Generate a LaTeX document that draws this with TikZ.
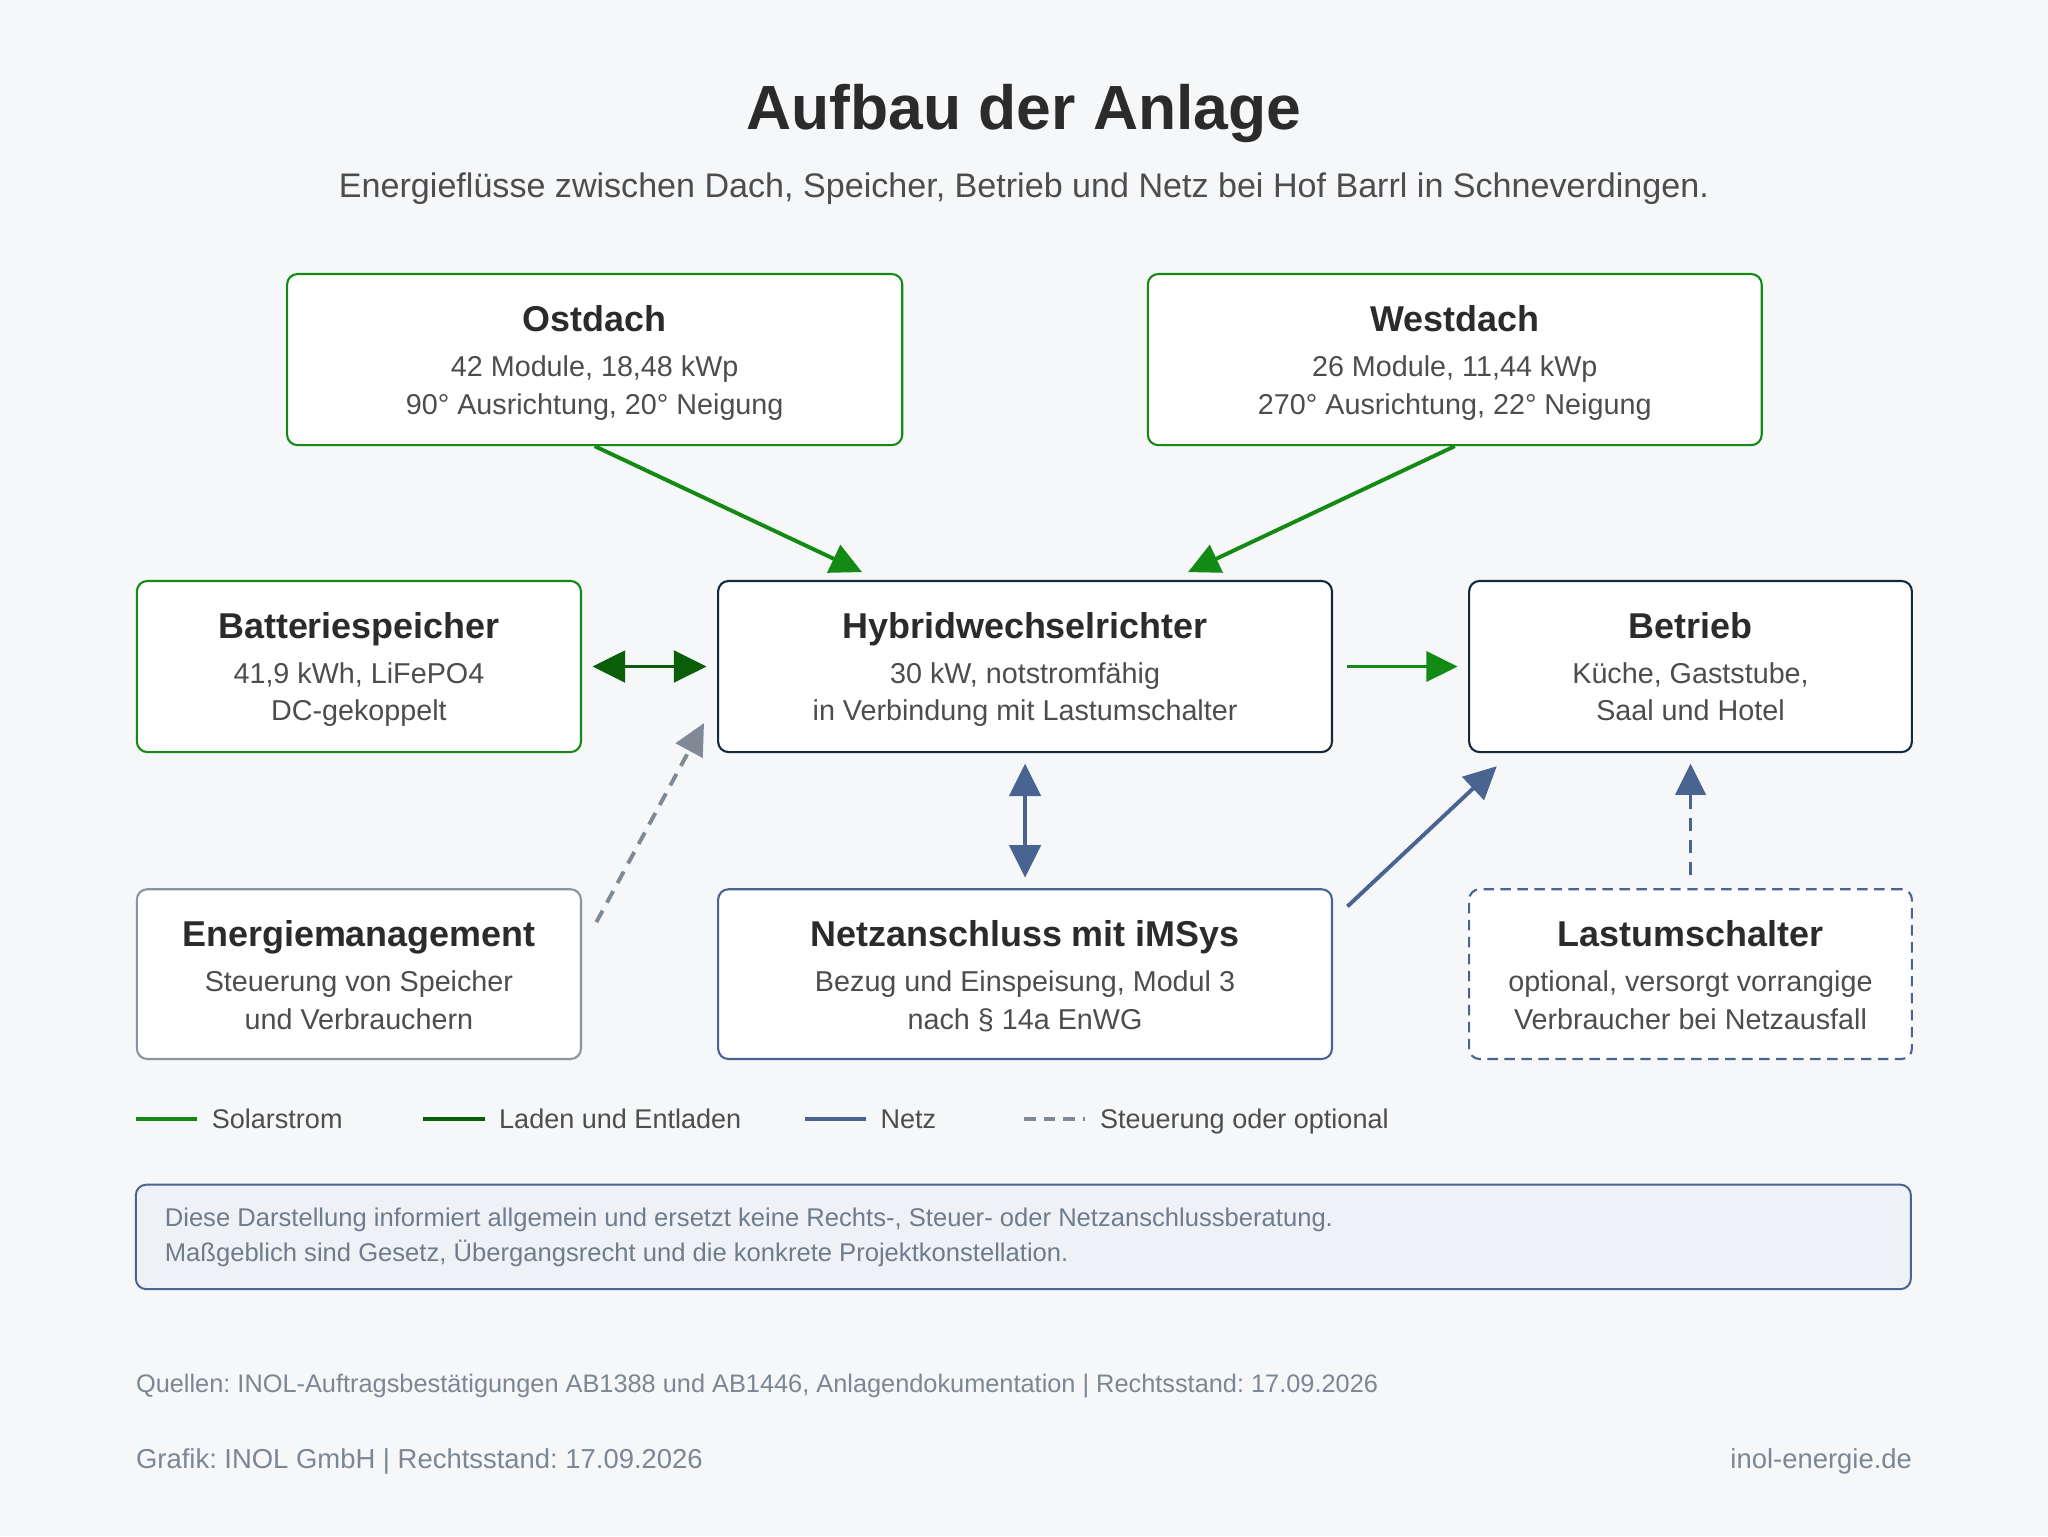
\documentclass[tikz,border=0pt]{standalone}
\usepackage{fontspec}
\setmainfont{Liberation Sans}
\usetikzlibrary{arrows.meta,calc}
\frenchspacing
\definecolor{bgc}{HTML}{F5F7F9}
\definecolor{titlec}{HTML}{2B2B2B}
\definecolor{subc}{HTML}{4D4D4D}
\definecolor{solarc}{HTML}{138A13}
\definecolor{ladec}{HTML}{0A5E0A}
\definecolor{navyc}{HTML}{14293C}
\definecolor{netzc}{HTML}{4A6491}
\definecolor{grayc}{HTML}{7F8A96}
\definecolor{emc}{HTML}{8A949F}
\definecolor{noteFill}{HTML}{EEF1F6}
\definecolor{notec}{HTML}{6E7C8C}
\definecolor{footc}{HTML}{7B8794}
\begin{document}
\frenchspacing
\begin{tikzpicture}[x=1pt,y=-1pt,
  box/.style={rectangle, rounded corners=8pt, fill=white, line width=1.6pt, inner sep=0pt, anchor=north west},
  boxttl/.style={anchor=base, text=titlec, font=\fontsize{27.5pt}{31pt}\selectfont\bfseries, inner sep=0pt},
  boxsub/.style={anchor=base, text=subc, font=\fontsize{22pt}{26pt}\selectfont, inner sep=0pt},
  legtxt/.style={anchor=base west, text=subc, font=\fontsize{20.7pt}{24pt}\selectfont, inner sep=0pt},
  solar/.style={draw=solarc, line width=3pt, -{Triangle[length=24pt,width=23pt]}},
  lade/.style={draw=ladec, line width=3pt, {Triangle[length=25pt,width=24pt]}-{Triangle[length=25pt,width=24pt]}},
  netz/.style={draw=netzc, line width=3pt, -{Triangle[length=25pt,width=24pt]}},
  netzdbl/.style={draw=netzc, line width=3pt, {Triangle[length=25pt,width=24pt]}-{Triangle[length=25pt,width=24pt]}},
  ctrl/.style={draw=grayc, line width=3pt, dash pattern=on 10pt off 7pt, -{Triangle[length=24pt,width=23pt]}},
  optl/.style={draw=netzc, line width=3pt, dash pattern=on 10pt off 7pt, -{Triangle[length=24pt,width=23pt]}}
]
\fill[bgc] (0,0) rectangle (1568,1176);
\useasboundingbox (0,0) rectangle (1568,1176);

% Title
\node[anchor=base, text=titlec, font=\fontsize{47.8pt}{52pt}\selectfont\bfseries, inner sep=0pt] (title) at (784,99.5) {Aufbau der Anlage};
\node[anchor=base, text=subc, font=\fontsize{26.1pt}{30pt}\selectfont, inner sep=0pt] (subtitle) at (784,151.5) {Energieflüsse zwischen Dach, Speicher, Betrieb und Netz bei Hof Barrl in Schneverdingen.};

% Boxes
\node[box, draw=solarc, minimum width=471pt, minimum height=131pt] (ost) at (219,209) {};
\node[box, draw=solarc, minimum width=470pt, minimum height=131pt] (west) at (878,209) {};
\node[box, draw=solarc, minimum width=340pt, minimum height=131pt] (bat) at (104,444) {};
\node[box, draw=navyc, minimum width=470pt, minimum height=131pt] (hwr) at (549,444) {};
\node[box, draw=navyc, minimum width=339pt, minimum height=131pt] (bet) at (1124,444) {};
\node[box, draw=emc, minimum width=340pt, minimum height=130pt] (em) at (104,680) {};
\node[box, draw=netzc, minimum width=470pt, minimum height=130pt] (netz) at (549,680) {};
\node[box, draw=netzc, dash pattern=on 8pt off 5pt, minimum width=339pt, minimum height=130pt] (last) at (1124,680) {};

% Box texts
\node[boxttl] (ostT) at ($(ost.north)+(0,45)$) {Ostdach};
\node[boxsub] (ostA) at ($(ost.north)+(0,79)$) {42 Module, 18,48 kWp};
\node[boxsub] (ostB) at ($(ost.north)+(0,108)$) {90° Ausrichtung, 20° Neigung};

\node[boxttl] (westT) at ($(west.north)+(0,45)$) {Westdach};
\node[boxsub] (westA) at ($(west.north)+(0,79)$) {26 Module, 11,44 kWp};
\node[boxsub] (westB) at ($(west.north)+(0,108)$) {270° Ausrichtung, 22° Neigung};

\node[boxttl] (batT) at ($(bat.north)+(0,45)$) {Batteriespeicher};
\node[boxsub] (batA) at ($(bat.north)+(0,79)$) {41,9 kWh, LiFePO4};
\node[boxsub] (batB) at ($(bat.north)+(0,108)$) {DC-gekoppelt};

\node[boxttl] (hwrT) at ($(hwr.north)+(0,45)$) {Hybridwechselrichter};
\node[boxsub] (hwrA) at ($(hwr.north)+(0,79)$) {30 kW, notstromfähig};
\node[boxsub] (hwrB) at ($(hwr.north)+(0,108)$) {in Verbindung mit Lastumschalter};

\node[boxttl] (betT) at ($(bet.north)+(0,45)$) {Betrieb};
\node[boxsub] (betA) at ($(bet.north)+(0,79)$) {Küche, Gaststube,};
\node[boxsub] (betB) at ($(bet.north)+(0,108)$) {Saal und Hotel};

\node[boxttl] (emT) at ($(em.north)+(0,45)$) {Energiemanagement};
\node[boxsub] (emA) at ($(em.north)+(0,79)$) {Steuerung von Speicher};
\node[boxsub] (emB) at ($(em.north)+(0,108)$) {und Verbrauchern};

\node[boxttl] (netzT) at ($(netz.north)+(0,45)$) {Netzanschluss mit iMSys};
\node[boxsub] (netzA) at ($(netz.north)+(0,79)$) {Bezug und Einspeisung, Modul 3};
\node[boxsub] (netzB) at ($(netz.north)+(0,108)$) {nach § 14a EnWG};

\node[boxttl] (lastT) at ($(last.north)+(0,45)$) {Lastumschalter};
\node[boxsub] (lastA) at ($(last.north)+(0,79)$) {optional, versorgt vorrangige};
\node[boxsub] (lastB) at ($(last.north)+(0,108)$) {Verbraucher bei Netzausfall};

% Connectors
\draw[solar] (ost.south) -- ($(hwr.north west)+(111,-6)$);
\draw[solar] (west.south) -- ($(hwr.north east)+(-111,-6)$);
\draw[lade] ($(bat.east)+(8,0)$) -- ($(hwr.west)+(-8,0)$);
\draw[solar] ($(hwr.east)+(11,0)$) -- ($(bet.west)+(-8,0)$);
\draw[netzdbl] ($(hwr.south)+(0,8)$) -- ($(netz.north)+(0,-8)$);
\draw[netz] ($(netz.north east)+(11,14)$) -- ($(bet.south west)+(22,10)$);
\draw[optl] ($(last.north)+(0,-10)$) -- ($(bet.south)+(0,8)$);
\draw[ctrl] ($(em.north east)+(11,26)$) -- ($(hwr.south west)+(-10,-23)$);

% Legend
\draw[solarc, line width=3pt] (104,857) -- (151,857);
\node[legtxt] (leg1) at (162,864) {Solarstrom};
\draw[ladec, line width=3pt] (324,857) -- (371,857);
\node[legtxt] (leg2) at (382,864) {Laden und Entladen};
\draw[netzc, line width=3pt] (616,857) -- (663,857);
\node[legtxt] (leg3) at (674,864) {Netz};
\draw[grayc, line width=3pt, dash pattern=on 9pt off 6pt] (784,857) -- (831,857);
\node[legtxt] (leg4) at (842,864) {Steuerung oder optional};

% Disclaimer
\draw[fill=noteFill, draw=netzc, line width=1.5pt, rounded corners=8pt] (104,907) rectangle (1463,987);
\node[anchor=base west, text=notec, font=\fontsize{19.6pt}{24pt}\selectfont, inner sep=0pt] (note1) at (126,939) {Diese Darstellung informiert allgemein und ersetzt keine Rechts-, Steuer- oder Netzanschlussberatung.};
\node[anchor=base west, text=notec, font=\fontsize{19.6pt}{24pt}\selectfont, inner sep=0pt] (note2) at (126,966) {Maßgeblich sind Gesetz, Übergangsrecht und die konkrete Projektkonstellation.};

% Footer
\node[anchor=base west, text=footc, font=\fontsize{19.4pt}{24pt}\selectfont, inner sep=0pt] (src) at (104,1066) {Quellen: INOL-Auftragsbestätigungen AB1388 und AB1446, Anlagendokumentation | Rechtsstand: 17.09.2026};
\node[anchor=base west, text=footc, font=\fontsize{21pt}{24pt}\selectfont, inner sep=0pt] (graf) at (104,1124) {Grafik: INOL GmbH | Rechtsstand: 17.09.2026};
\node[anchor=base east, text=footc, font=\fontsize{21pt}{24pt}\selectfont, inner sep=0pt] (web) at (1464,1124) {inol-energie.de};
\end{tikzpicture}
\end{document}
